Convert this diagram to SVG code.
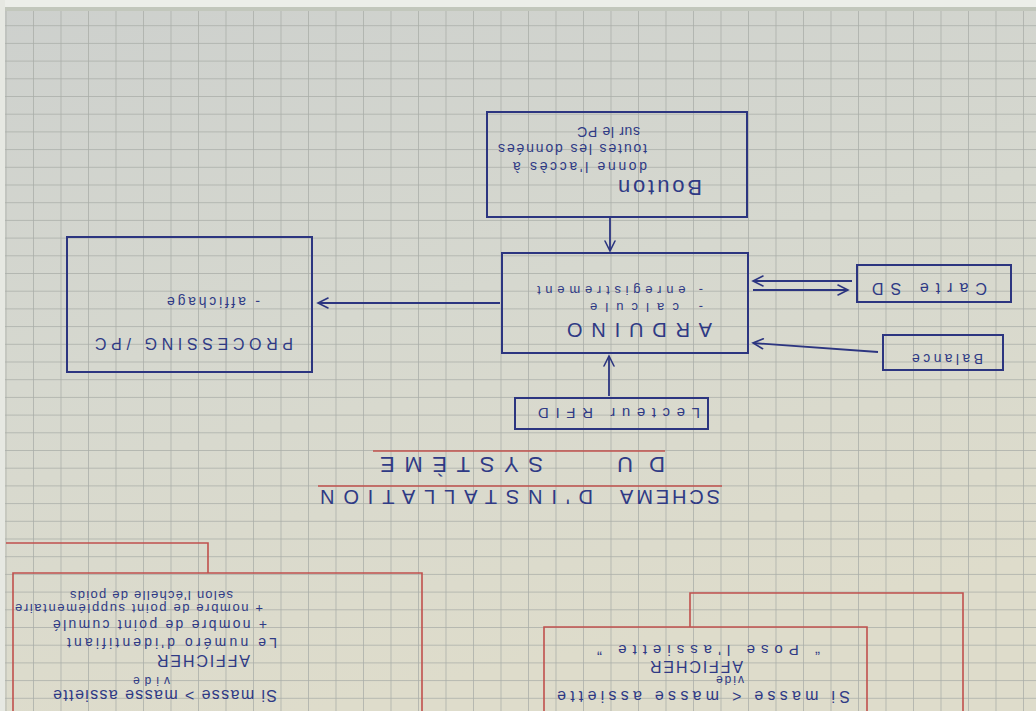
<svg xmlns="http://www.w3.org/2000/svg" width="1036" height="711" viewBox="0 0 1036 711">
<defs>
<linearGradient id="paper" x1="0" y1="0" x2="0.3" y2="1">
<stop offset="0" stop-color="#cdd0cd"/>
<stop offset="0.5" stop-color="#d6d8cf"/>
<stop offset="1" stop-color="#dedccb"/>
</linearGradient>
<pattern id="grid" patternUnits="userSpaceOnUse" x="5.5" y="7.5" width="27.5" height="17.7">
<path d="M0,0 V17.7 M0,0 H27.5" fill="none" stroke="#a9ada8" stroke-width="1.5"/>
</pattern>
<marker id="arr" viewBox="-12 -7 14 14" refX="0" refY="0" markerWidth="14" markerHeight="14" markerUnits="userSpaceOnUse" orient="auto">
<path d="M-10,-5 L0,0 L-10,5" fill="none" stroke="#2c3580" stroke-width="1.6" stroke-linecap="round"/>
</marker>
</defs>
<style>
.box{fill:none;stroke:#2c3580;stroke-width:2}
.red{fill:none;stroke:#c0504d;stroke-width:1.6}
.con{fill:none;stroke:#2c3580;stroke-width:1.8;marker-end:url(#arr)}
text{font-family:"Liberation Sans","DejaVu Sans",sans-serif;fill:#2f3a85;dominant-baseline:central;text-anchor:middle}
.s12{font-size:12px}.s13{font-size:13px}.s14{font-size:14px}.s15{font-size:15px}.s16{font-size:16px}.s20{font-size:20px}.s22{font-size:22px}
</style>
<rect width="1036" height="711" fill="url(#paper)"/>
<rect width="1036" height="711" fill="url(#grid)"/>
<rect width="1036" height="7" fill="#eceee9"/>
<rect y="7" width="1036" height="4" fill="#c2c7bc"/>
<rect width="5" height="711" fill="#e6e8e2"/>

<g id="connectors">
<line class="con" x1="610" y1="217" x2="610" y2="251"/>
<line class="con" x1="609" y1="396" x2="609" y2="356"/>
<line class="con" x1="500" y1="303" x2="318" y2="303"/>
<line class="con" x1="753" y1="290" x2="848" y2="290"/>
<line class="con" x1="852" y1="281" x2="753" y2="281"/>
<line class="con" x1="878" y1="352" x2="753" y2="343"/>
</g>

<g id="bouton">
<rect class="box" x="487" y="112" width="260" height="105"/>
<text class="s22" x="660" y="187" textLength="84" transform="rotate(180 660 187)">Bouton</text>
<text class="s14" x="580" y="167" textLength="134" transform="rotate(180 580 167)">donne l'accès à</text>
<text class="s14" x="572.5" y="149" textLength="149" transform="rotate(180 572.5 149)">toutes les données</text>
<text class="s14" x="608.5" y="132" textLength="63" transform="rotate(180 608.5 132)">sur le PC</text>
</g>

<g id="arduino">
<rect class="box" x="502" y="253" width="246" height="100"/>
<text class="s20" x="639.5" y="330" textLength="145" transform="rotate(180 639.5 330)">ARDUINO</text>
<text class="s13" x="646.5" y="307" textLength="113" transform="rotate(180 646.5 307)">- calcule</text>
<text class="s13" x="620" y="290" textLength="166" transform="rotate(180 620 290)">- enregistrement</text>
</g>

<g id="processing">
<rect class="box" x="67" y="237" width="245" height="135"/>
<text class="s16" x="194" y="343" textLength="198" transform="rotate(180 194 343)">PROCESSING /PC</text>
<text class="s14" x="213.5" y="302" textLength="93" transform="rotate(180 213.5 302)">- affichage</text>
</g>

<g id="carte-sd">
<rect class="box" x="857" y="265" width="154" height="37"/>
<text class="s16" x="929.5" y="288" textLength="115" transform="rotate(180 929.5 288)">Carte SD</text>
</g>

<g id="balance">
<rect class="box" x="883" y="335" width="120" height="35"/>
<text class="s14" x="947.5" y="359" textLength="71" transform="rotate(180 947.5 359)">Balance</text>
</g>

<g id="lecteur-rfid">
<rect class="box" x="515" y="398" width="193" height="31"/>
<text class="s15" x="619" y="413" textLength="162" transform="rotate(180 619 413)">Lecteur RFID</text>
</g>

<g id="titre">
<line class="red" x1="373" y1="451" x2="665" y2="451"/>
<line class="red" x1="318" y1="486" x2="722" y2="486"/>
<text class="s22" x="641" y="464" textLength="48" transform="rotate(180 641 464)">DU</text>
<text class="s22" x="461.5" y="464" textLength="163" transform="rotate(180 461.5 464)">SYSTÈME</text>
<text class="s20" x="670" y="497" textLength="100" transform="rotate(180 670 497)">SCHEMA</text>
<text class="s20" x="456.5" y="497" textLength="273" transform="rotate(180 456.5 497)">D'INSTALLATION</text>
</g>

<g id="masse-superieure">
<path class="red" d="M6,543 H208 V573"/>
<path class="red" d="M13,712 V573 H422 V712"/>
<text class="s16" x="165" y="695" textLength="224" transform="rotate(180 165 695)">Si masse &gt; masse assiette</text>
<text class="s12" x="151.5" y="681" textLength="37" transform="rotate(180 151.5 681)">vide</text>
<text class="s16" x="203.5" y="660" textLength="93" transform="rotate(180 203.5 660)">AFFICHER</text>
<text class="s14" x="172" y="643" textLength="210" transform="rotate(180 172 643)">Le numéro d'identifiant</text>
<text class="s14" x="160" y="625" textLength="214" transform="rotate(180 160 625)">+ nombre de point cumulé</text>
<text class="s13" x="139" y="608" textLength="248" transform="rotate(180 139 608)">+ nombre de point supplémentaire</text>
<text class="s13" x="151.5" y="595" textLength="163" transform="rotate(180 151.5 595)">selon l'échelle de poids</text>
</g>

<g id="masse-inferieure">
<path class="red" d="M690,627 V593 H963 V712"/>
<path class="red" d="M544,712 V627 H867 V712"/>
<text class="s16" x="703.5" y="696" textLength="293" transform="rotate(180 703.5 696)">Si masse &lt; masse assiette</text>
<text class="s12" x="730" y="680" textLength="28" transform="rotate(180 730 680)">vide</text>
<text class="s16" x="696.5" y="666" textLength="93" transform="rotate(180 696.5 666)">AFFICHER</text>
<text class="s15" x="708.5" y="650" textLength="223" transform="rotate(180 708.5 650)">“ Pose l'assiette ”</text>
</g>
</svg>
